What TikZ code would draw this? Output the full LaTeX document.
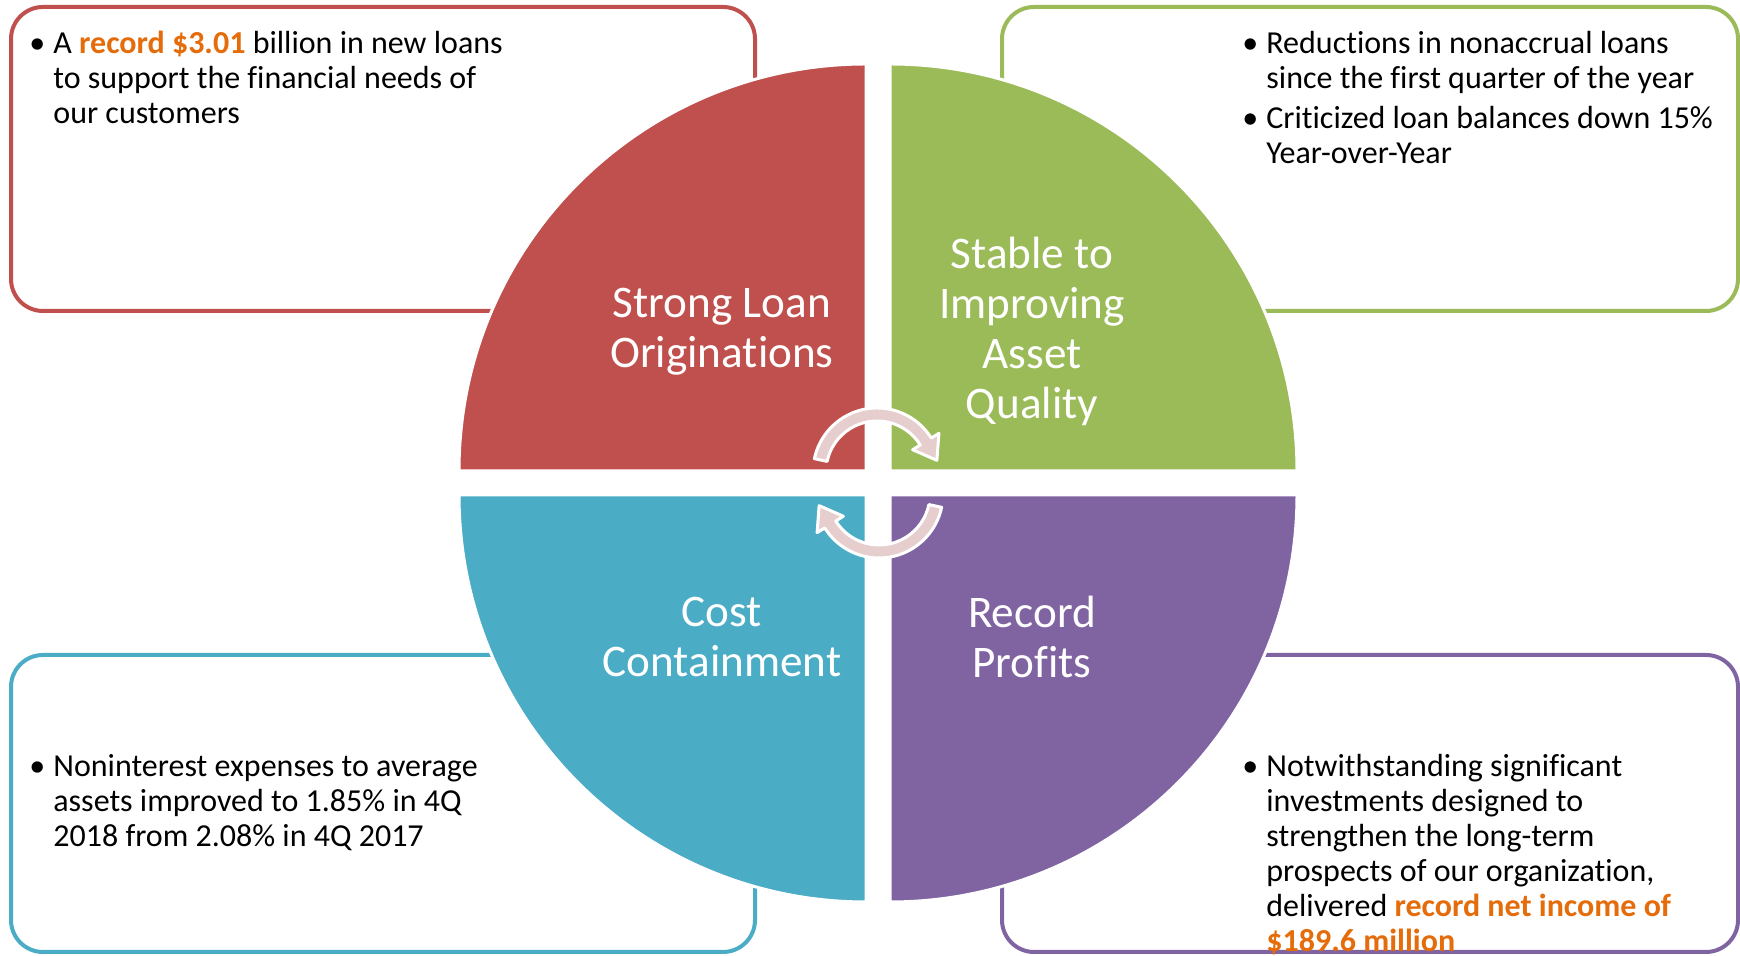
\documentclass[tikz,border=0pt]{standalone}
\usepackage{fontspec}
\setmainfont{Carlito}[Ligatures=NoCommon]
\usetikzlibrary{positioning}
\definecolor{qred}{HTML}{C0504D}
\definecolor{qgreen}{HTML}{9BBB59}
\definecolor{qteal}{HTML}{4BACC6}
\definecolor{qpurple}{HTML}{8064A2}
\definecolor{hotorange}{HTML}{E46C0A}
\definecolor{ringpink}{HTML}{E6CDCE}
\newcommand{\itm}{\strut\llap{\textbullet\hspace{4pt}}}
\newcommand{\hot}[1]{\textcolor{hotorange}{\bfseries #1}}
\begin{document}
\begin{tikzpicture}[x=0.5pt, y=0.5pt,
    box/.style={line width=2pt, rounded corners=16pt},
    quad/.style={draw=white, line width=1.5pt},
    lbl/.style={text=white, align=center, inner sep=0pt, font=\fontsize{22.6}{25}\selectfont},
    txt/.style={anchor=north west, align=left, inner sep=0pt, font=\fontsize{16}{17.5}\selectfont},
    ring/.style={fill=ringpink, draw=white, line width=1.5pt, line join=round}]
  \useasboundingbox (0,0) rectangle (1740,956);
  % frames behind the disc
  \draw[box, qred] (11,645) rectangle (755,949);
  \draw[box, qgreen] (1002,645) rectangle (1738,949);
  \draw[box, qteal] (11,4) rectangle (755,301);
  \draw[box, qpurple] (1002,4) rectangle (1738,301);
  % four quarters
  \filldraw[quad, fill=qred] (866,485) -- ++(-407,0) arc[start angle=180, end angle=90, radius=407] -- cycle;
  \filldraw[quad, fill=qgreen] (890,485) -- ++(0,407) arc[start angle=90, end angle=0, radius=407] -- cycle;
  \filldraw[quad, fill=qteal] (866,461) -- ++(0,-407) arc[start angle=270, end angle=180, radius=407] -- cycle;
  \filldraw[quad, fill=qpurple] (890,461) -- ++(407,0) arc[start angle=0, end angle=-90, radius=407] -- cycle;
  \node[lbl] (loans) at (722,624) {Strong Loan\\Originations};
  \node[lbl] (quality) at (1032,625) {Stable to\\Improving\\Asset\\Quality};
  \node[lbl] (cost) at (722,319) {Cost\\Containment};
  \node[lbl] (profits) at (1032,319) {Record\\Profits};
  % cycle arrows
  \begin{scope}[shift={(877,484)}]
    \filldraw[ring] (168:64) arc[start angle=168, end angle=32, radius=64] -- (32:73) -- (11:61) -- (32:42) -- (32:51) arc[start angle=32, end angle=168, radius=51] -- cycle;
  \end{scope}
  \begin{scope}[shift={(879,462)}]
    \filldraw[ring] (348:64) arc[start angle=348, end angle=212, radius=64] -- (212:73) -- (191:61) -- (212:42) -- (212:51) arc[start angle=212, end angle=348, radius=51] -- cycle;
  \end{scope}
  % bullet texts
  \node[txt] (loantext) at (53,927.5) {\itm A \hot{record \$3.01} billion in new loans\\to support the financial needs of\\our customers};
  \node[txt] (qualtext1) at (1266,927.5) {\itm Reductions in nonaccrual loans\\since the first quarter of the year};
  \node[txt] (qualtext2) at (1266,852.5) {\itm Criticized loan balances down 15\%\\Year-over-Year};
  \node[txt] (costtext) at (53,204.5) {\itm Noninterest expenses to average\\assets improved to 1.85\% in 4Q\\2018 from 2.08\% in 4Q 2017};
  \node[txt] (proftext) at (1266,204.5) {\itm Notwithstanding significant\\investments designed to\\strengthen the long-term\\prospects of our organization,\\delivered \hot{record net income of}\\\hot{\$189.6 million}};
\end{tikzpicture}
\end{document}
